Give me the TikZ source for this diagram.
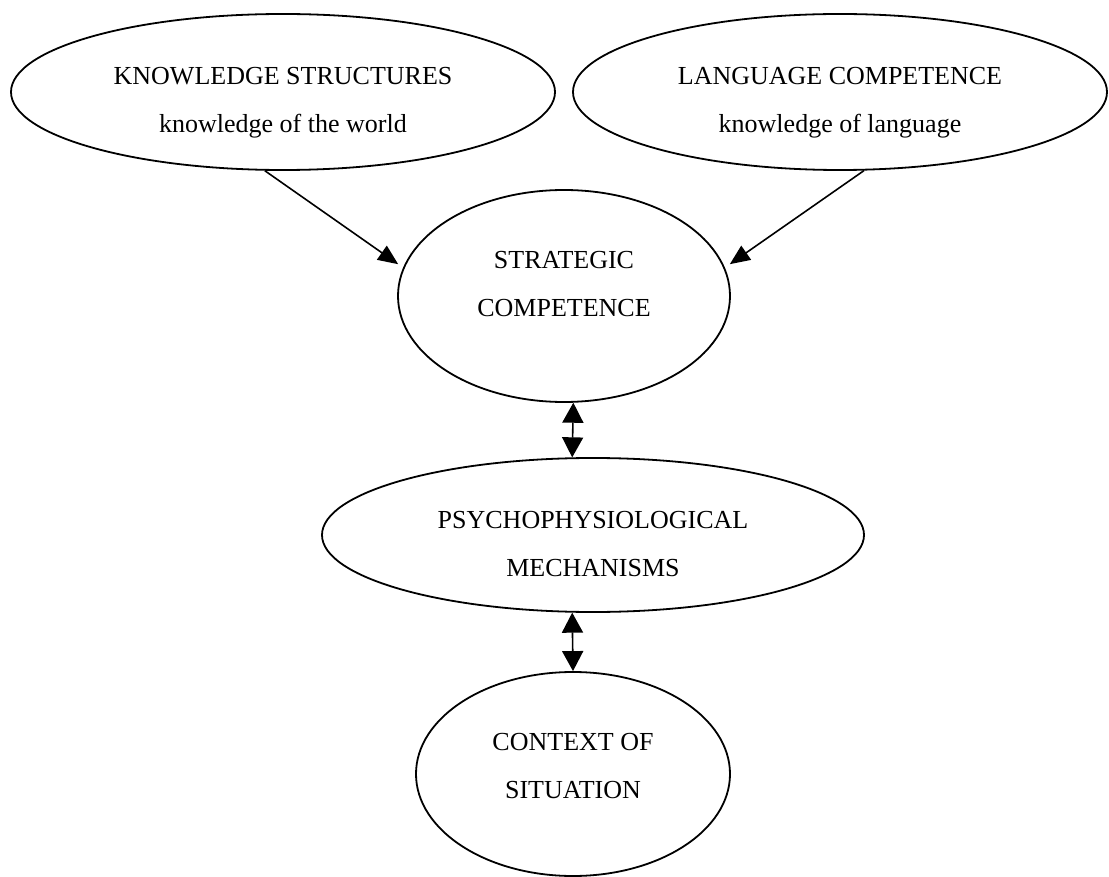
\documentclass[tikz,border=0pt]{standalone}
\usepackage{fontspec}
\setmainfont{Liberation Serif}
\usetikzlibrary{shapes.geometric,arrows.meta}

% two centred lines, moved up or down inside the ellipse
\newcommand{\bubbletext}[2]{\raisebox{#1}[0pt][0pt]{\begin{tabular}{@{}c@{}}#2\end{tabular}}}

\begin{document}
\begin{tikzpicture}[x=0.5pt, y=0.5pt, node distance=119.5pt, line width=0.8pt,
    bubble/.style={draw, ellipse, line width=0.9pt, inner sep=0pt,
                   font=\fontsize{13}{24}\selectfont},
    >={Triangle[length=10pt, width=8.5pt]},
    twoway/.style={{Triangle[length=10pt, width=10.5pt]}-{Triangle[length=10pt, width=10.5pt]}}]
  \useasboundingbox (0,0) rectangle (1109,-877);
  \node[bubble, minimum width=272pt, minimum height=78pt] (ks) at (283,-92) {\bubbletext{-6.5pt}{KNOWLEDGE STRUCTURES\\knowledge of the world}};
  \node[bubble, minimum width=267pt, minimum height=78pt] (lc) at (840,-92) {\bubbletext{-6.5pt}{LANGUAGE COMPETENCE\\knowledge of language}};
  \node[bubble, minimum width=166pt, minimum height=106pt] (sc) at (564,-296) {\bubbletext{3.75pt}{STRATEGIC\\COMPETENCE}};
  \node[bubble, minimum width=271pt, minimum height=77pt, below of=sc, xshift=14.5pt] (pm) {\bubbletext{-7pt}{PSYCHOPHYSIOLOGICAL\\MECHANISMS}};
  \node[bubble, minimum width=157pt, minimum height=102pt, below of=pm, xshift=-10pt] (cs) {\bubbletext{1.75pt}{CONTEXT OF\\SITUATION}};

  \draw[->, shorten >=3pt] (ks.-103) -- (sc.170);
  \draw[->, shorten >=3pt] (lc.-73) -- (sc.10);
  \draw[twoway] (sc.-85) -- (pm.105);
  \draw[twoway] (pm.-105) -- (cs.north);
\end{tikzpicture}
\end{document}
